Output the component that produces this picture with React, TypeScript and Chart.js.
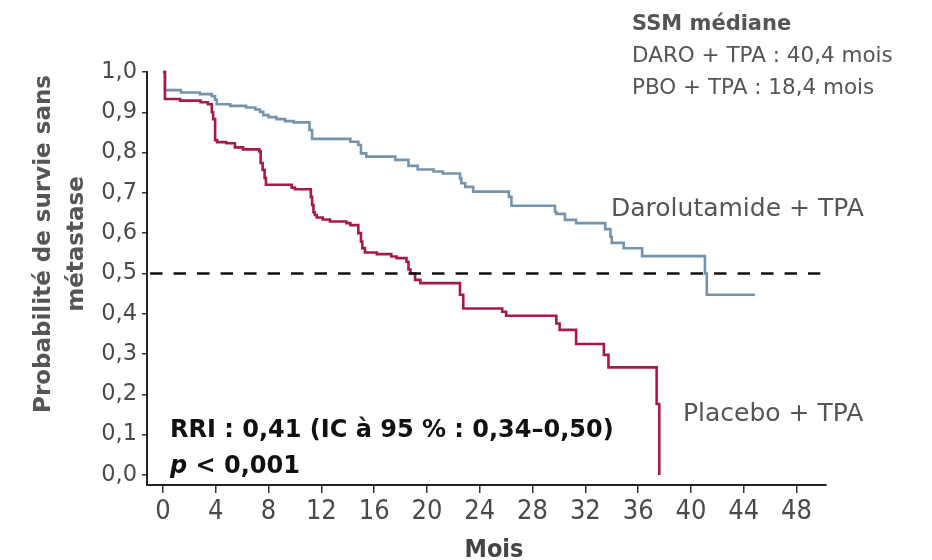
import React, { useEffect, useRef } from "react";
import { Chart, registerables } from "chart.js";

Chart.register(...registerables);

// Axis ticks
const X_TICKS = [0, 4, 8, 12, 16, 20, 24, 28, 32, 36, 40, 44, 48];
const Y_TICKS = [0, 0.1, 0.2, 0.3, 0.4, 0.5, 0.6, 0.7, 0.8, 0.9, 1.0];
const Y_TICK_LABELS = ["0,0", "0,1", "0,2", "0,3", "0,4", "0,5", "0,6", "0,7", "0,8", "0,9", "1,0"];

// Kaplan–Meier steps: time (months) and survival after each event
const DARO_MONTHS = [0, 0.15, 1.36, 2.8, 3.7, 3.95, 4.07, 5.1, 6.3, 7.0, 7.35, 7.6, 8.0, 8.6, 9.25, 9.9, 11.1, 11.3, 14.2, 14.8, 15.0, 15.4, 17.6, 18.6, 19.3, 20.5, 21.2, 22.5, 22.6, 22.9, 23.5, 26.2, 26.4, 29.7, 29.8, 30.45, 31.3, 33.5, 33.9, 34.0, 34.9, 36.3, 41.06, 41.2, 44.85];
const DARO_SURVIVAL = [1.0, 0.955, 0.949, 0.945, 0.94, 0.931, 0.92, 0.916, 0.912, 0.907, 0.901, 0.893, 0.888, 0.883, 0.878, 0.875, 0.856, 0.834, 0.827, 0.819, 0.798, 0.79, 0.782, 0.767, 0.758, 0.753, 0.748, 0.736, 0.724, 0.715, 0.703, 0.69, 0.668, 0.653, 0.648, 0.633, 0.625, 0.61, 0.591, 0.576, 0.5625, 0.543, 0.5, 0.447, 0.447];

const PBO_MONTHS = [0, 0.15, 1.3, 2.85, 3.4, 3.7, 3.8, 3.95, 4.1, 4.8, 5.45, 6.07, 7.3, 7.4, 7.55, 7.7, 7.8, 9.75, 10.0, 11.2, 11.3, 11.4, 11.5, 11.65, 12.1, 12.65, 13.9, 14.2, 14.8, 15.0, 15.1, 15.3, 16.2, 17.3, 17.7, 18.45, 18.6, 18.75, 19.1, 19.5, 22.5, 22.75, 25.7, 26.0, 29.8, 30.05, 31.3, 33.4, 33.75, 37.4, 37.6];
const PBO_SURVIVAL = [1.0, 0.933, 0.929, 0.925, 0.92, 0.9, 0.883, 0.831, 0.826, 0.823, 0.813, 0.808, 0.803, 0.774, 0.757, 0.737, 0.72, 0.713, 0.709, 0.69, 0.67, 0.652, 0.645, 0.639, 0.634, 0.629, 0.625, 0.62, 0.6, 0.579, 0.563, 0.552, 0.548, 0.542, 0.538, 0.529, 0.51, 0.5, 0.484, 0.476, 0.447, 0.413, 0.405, 0.395, 0.376, 0.36, 0.325, 0.298, 0.267, 0.176, 0.0];

// Median reference line
const MEDIAN_LEVEL = 0.5;
const MEDIAN_LINE_MONTHS = [-0.98, 49.8];

const DARO_COLOR = "#7494ad";
const PBO_COLOR = "#a8184a";
const TEXT_GRAY = "#555555";
const SANS = '"DejaVu Sans", "Open Sans", sans-serif';
const COND = '"DejaVu Sans Condensed", "Liberation Sans Narrow", "DejaVu Sans", sans-serif';

const toPoints = (xs: number[], ys: number[]) => xs.map((x, i) => ({ x, y: ys[i] }));

const annotations = {
  id: "annotations",
  afterDraw(chart: Chart) {
    const ctx = chart.ctx;
    ctx.save();
    ctx.textBaseline = "alphabetic";
    ctx.textAlign = "left";

    // Median summary
    ctx.fillStyle = TEXT_GRAY;
    ctx.font = `bold 21px ${SANS}`;
    ctx.fillText("SSM médiane", 632, 30);
    ctx.font = `21.5px ${SANS}`;
    ctx.fillText("DARO + TPA : 40,4 mois", 632, 62);
    ctx.fillText("PBO + TPA : 18,4 mois", 632, 94);

    // Curve labels
    ctx.font = `25px ${SANS}`;
    ctx.fillText("Darolutamide + TPA", 611, 216);
    ctx.fillText("Placebo + TPA", 683, 421);

    // Hazard ratio
    ctx.fillStyle = "#111111";
    ctx.font = `bold 24px ${SANS}`;
    ctx.fillText("RRI : 0,41 (IC à 95 % : 0,34–0,50)", 170, 437);
    ctx.font = `italic bold 24px ${SANS}`;
    ctx.fillText("p", 170, 473);
    const pw = ctx.measureText("p ").width;
    ctx.font = `bold 24px ${SANS}`;
    ctx.fillText("< 0,001", 170 + pw, 473);

    // X axis title
    ctx.fillStyle = "#444444";
    ctx.textAlign = "center";
    ctx.font = `bold 25px ${COND}`;
    ctx.fillText("Mois", 494, 557);

    // Y axis title (two lines, rotated)
    ctx.fillStyle = TEXT_GRAY;
    ctx.font = `bold 23px ${SANS}`;
    ctx.translate(50, 244);
    ctx.rotate(-Math.PI / 2);
    ctx.fillText("Probabilité de survie sans", 0, 0);
    ctx.fillText("métastase", 0, 33);
    ctx.restore();
  },
};

export default function App() {
  const canvasRef = useRef<HTMLCanvasElement | null>(null);

  useEffect(() => {
    const canvas = canvasRef.current;
    if (!canvas) return;
    const chart = new Chart(canvas, {
      type: "line",
      data: {
        datasets: [
          {
            label: "Médiane",
            data: MEDIAN_LINE_MONTHS.map((x) => ({ x, y: MEDIAN_LEVEL })),
            borderColor: "#111111",
            borderWidth: 2.5,
            borderDash: [12.5, 11],
            pointRadius: 0,
            clip: false as any,
          },
          {
            label: "Placebo + TPA",
            data: toPoints(PBO_MONTHS, PBO_SURVIVAL),
            borderColor: PBO_COLOR,
            borderWidth: 2.6,
            stepped: "before",
            pointRadius: 0,
            clip: false as any,
          },
          {
            label: "Darolutamide + TPA",
            data: toPoints(DARO_MONTHS, DARO_SURVIVAL),
            borderColor: DARO_COLOR,
            borderWidth: 2.6,
            stepped: "before",
            pointRadius: 0,
            clip: false as any,
          },
        ],
      },
      options: {
        animation: false,
        responsive: true,
        maintainAspectRatio: false,
        devicePixelRatio: 1,
        layout: { padding: { left: 0, top: 72, right: 106, bottom: 0 } },
        plugins: {
          legend: { display: false },
          tooltip: { enabled: false },
          title: { display: false },
        },
        scales: {
          x: {
            type: "linear",
            min: -1.21,
            max: 50.23,
            afterBuildTicks: (axis: any) => {
              axis.ticks = X_TICKS.map((value) => ({ value }));
            },
            afterFit: (scale: any) => {
              scale.height = 75;
            },
            grid: {
              display: true,
              drawOnChartArea: false,
              drawTicks: true,
              tickLength: 8,
              color: "#333333",
              lineWidth: 1.5,
            },
            border: { display: true, color: "#222222", width: 2 },
            ticks: {
              autoSkip: false,
              maxRotation: 0,
              padding: 3,
              color: "#4a4a4a",
              font: { family: COND, size: 27 },
              callback: (v: any) => String(v),
            },
          },
          y: {
            type: "linear",
            min: -0.025,
            max: 1.0,
            afterBuildTicks: (axis: any) => {
              axis.ticks = Y_TICKS.map((value) => ({ value }));
            },
            afterFit: (scale: any) => {
              scale.width = 147;
            },
            grid: {
              display: true,
              drawOnChartArea: false,
              drawTicks: true,
              tickLength: 5,
              color: "#333333",
              lineWidth: 1.5,
            },
            border: { display: true, color: "#222222", width: 2 },
            ticks: {
              autoSkip: false,
              padding: 5,
              color: "#4a4a4a",
              font: { family: SANS, size: 22.5 },
              callback: (v: any) => {
                const i = Y_TICKS.findIndex((t) => Math.abs(t - Number(v)) < 1e-6);
                return i >= 0 ? Y_TICK_LABELS[i] : "";
              },
            },
          },
        },
      },
      plugins: [annotations],
    });
    return () => chart.destroy();
  }, []);

  return (
    <div style={{ position: "fixed", left: 0, top: 0, width: 932, height: 560, background: "#ffffff" }}>
      <canvas ref={canvasRef} style={{ display: "block", width: 932, height: 560 }} />
    </div>
  );
}
